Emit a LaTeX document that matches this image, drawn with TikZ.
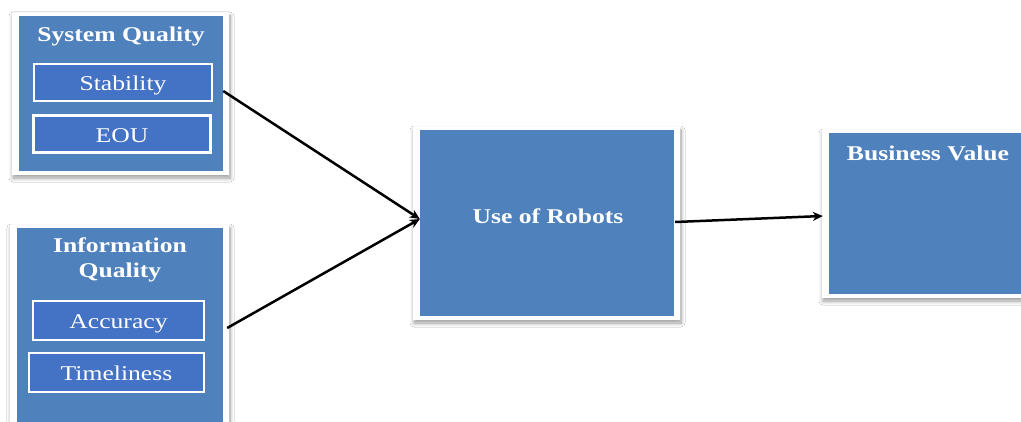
\documentclass[tikz,border=0pt]{standalone}
\usepackage{fontspec}
\setmainfont{Liberation Serif}[FakeStretch=1.22]
\usetikzlibrary{arrows.meta,shadows.blur}
\definecolor{frameblue}{HTML}{4F81BD}
\definecolor{itemblue}{HTML}{4472C4}
\tikzset{
  x=1pt, y=-1pt,
  % white-rimmed panel: white outer card with a soft shadow, blue face inset
  panel/.style={rectangle, inner sep=0pt, fill=white,
    blur shadow={shadow xshift=1pt, shadow yshift=-3pt, shadow opacity=40, shadow blur radius=4pt, shadow blur steps=10},
    path picture={\fill[frameblue]
      ([shift={(6.5pt,-3.5pt)}]path picture bounding box.north west) rectangle
      ([shift={(-6.5pt,3.5pt)}]path picture bounding box.south east);}},
  itembox/.style={rectangle, inner sep=0pt, fill=itemblue, draw=white, line width=2.4pt,
    text=white, font=\fontsize{21}{25}\selectfont, text height=16.5pt, text depth=0pt},
  heading/.style={text=white, font=\fontsize{21}{25}\selectfont\bfseries, align=center, inner sep=0pt},
  link/.style={line width=2.5pt, draw=black, -{Stealth[length=10pt,width=9pt]}}
}
\begin{document}
\begin{tikzpicture}
\clip (0,0) rectangle (1021,422);
\fill[white] (0,0) rectangle (1021,422);

% framed panels
\node[panel, minimum width=217pt, minimum height=162pt] (sq) at (120.5,94) {};
\node[panel, minimum width=219pt, minimum height=220pt] (iq) at (119.5,335) {};
\node[panel, minimum width=267pt, minimum height=193pt] (ur) at (546.5,223.5) {};
\node[panel, minimum width=223pt, minimum height=168pt] (bv) at (933.5,214) {};

% panel headings
\node[heading] (sqt) at (121,36) {System Quality};
\node[heading] (iqt) at (120,260) {Information\\Quality};
\node[heading] (urt) at (548,216) {Use of Robots};
\node[heading] (bvt) at (928,153) {Business Value};

% dimension boxes
\node[itembox, minimum width=178pt, minimum height=37pt] (stab) at (123,82.5) {Stability};
\node[itembox, minimum width=177pt, minimum height=37pt] (eou) at (122,134) {EOU};
\node[itembox, minimum width=171pt, minimum height=39pt] (acc) at (118.5,320.5) {Accuracy};
\node[itembox, minimum width=175pt, minimum height=39pt] (time) at (116.5,372.5) {Timeliness};

% connectors
\draw[link] ([yshift=3pt,xshift=-6pt]sq.east) -- ([yshift=4.5pt,xshift=7pt]ur.west);
\draw[link] ([yshift=7pt,xshift=-2pt]iq.east) -- ([yshift=4.5pt,xshift=7pt]ur.west);
\draw[link] ([yshift=1.5pt,xshift=-5pt]ur.east) -- ([yshift=-2pt,xshift=1pt]bv.west);
\end{tikzpicture}
\end{document}
